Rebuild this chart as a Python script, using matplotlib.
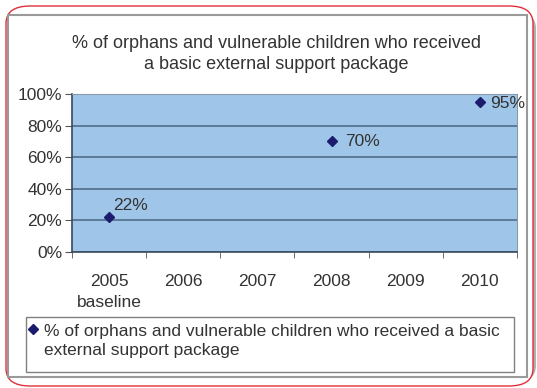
import matplotlib.pyplot as plt
from matplotlib.patches import FancyBboxPatch, Rectangle
from matplotlib.lines import Line2D
import matplotlib.ticker as ticker

plt.rcParams['font.family'] = ['Liberation Sans', 'DejaVu Sans']

# DATOS
years = ['2005', '2006', '2007', '2008', '2009', '2010']
x_labels = ['2005\nbaseline', '2006', '2007', '2008', '2009', '2010']
point_years = ['2005', '2008', '2010']
point_values = [0.22, 0.70, 0.95]
point_labels = ['22%', '70%', '95%']
title = '% of orphans and vulnerable children who received\na basic external support package'
legend_label = '% of orphans and vulnerable children who received a basic\nexternal support package'

W, H = 537, 388
TXT = '#333333'
MARK = '#1c1c6e'

fig = plt.figure(figsize=(W / 100, H / 100), dpi=100)

def px(x, y):
    return x / W, 1 - y / H

# sombra + borde rojo redondeado
fig.add_artist(FancyBboxPatch(px(10, 383), 526 / W, 372 / H, boxstyle='round,pad=0,rounding_size=0.045',
                              transform=fig.transFigure, facecolor='#b0b0b0', edgecolor='none', zorder=0))
fig.add_artist(FancyBboxPatch(px(6, 386), 527 / W, 380 / H, boxstyle='round,pad=0,rounding_size=0.045',
                              transform=fig.transFigure, facecolor='white', edgecolor='#e0303a', linewidth=1.0, zorder=1))
# marco gris del grafico
fig.add_artist(Rectangle(px(8, 377), 519 / W, 362 / H, transform=fig.transFigure,
                         facecolor='white', edgecolor='#9a9a9a', linewidth=1.5, zorder=2))

ax = fig.add_axes([72 / W, 1 - 252 / H, 445 / W, 158 / H], zorder=3)
ax.set_facecolor('#9fc6e9')

xi = [years.index(y) for y in point_years]
ax.plot(xi, point_values, linestyle='none', marker='D', markersize=5, color=MARK, zorder=4)

offsets = [(4, 12), (14, 0), (10, -2)]
for x, v, lab, (dx, dy) in zip(xi, point_values, point_labels, offsets):
    ax.annotate(lab, (x, v), xytext=(dx, dy), textcoords='offset pixels',
                ha='left', va='center', fontsize=12.5, color=TXT, annotation_clip=False, zorder=5)

ax.set_xlim(-0.5, len(years) - 0.5)
ax.set_ylim(0, 1)
ax.yaxis.set_major_locator(ticker.MultipleLocator(0.2))
ax.yaxis.set_major_formatter(ticker.PercentFormatter(1.0, decimals=0))
ax.set_xticks(range(len(years)))
ax.set_xticklabels(x_labels, fontsize=12.5, color=TXT, linespacing=1.45, va='top')
ax.set_xticks([i - 0.5 for i in range(len(years) + 1)], minor=True)
ax.tick_params(axis='x', which='major', length=0, pad=16)
ax.tick_params(axis='x', which='minor', length=4, direction='out', color='#555555')
ax.tick_params(axis='y', length=5, direction='out', color='#555555', labelsize=12.5, labelcolor=TXT, pad=2)

ax.grid(axis='y', color='#4a6683', linewidth=1.1)
ax.set_axisbelow(True)
for s in ['top', 'right']:
    ax.spines[s].set_color('#8a9aaa')
for s in ['left', 'bottom']:
    ax.spines[s].set_color('#3a4a5a')
    ax.spines[s].set_linewidth(1.2)

fig.text(*px(276, 54), title, ha='center', va='center', fontsize=13, color=TXT, linespacing=1.3)

# leyenda
fig.add_artist(Rectangle(px(26, 372), 488 / W, 55 / H, transform=fig.transFigure,
                         facecolor='white', edgecolor='#808080', linewidth=1.0, zorder=3))
fig.add_artist(Line2D([33 / W], [1 - 329 / H], transform=fig.transFigure, marker='D',
                      markersize=5, color=MARK, linestyle='none', zorder=4))
fig.text(*px(44, 341), legend_label, ha='left', va='center', fontsize=12.5, color=TXT,
         linespacing=1.35, zorder=4)

fig.savefig('out.png', dpi=100)
